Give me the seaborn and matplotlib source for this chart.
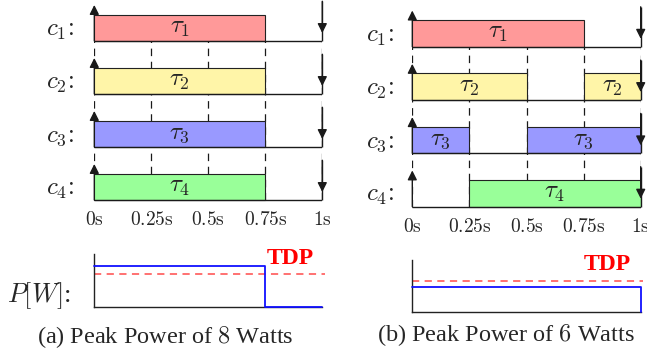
import matplotlib
matplotlib.use("Agg")
import matplotlib.pyplot as plt
import seaborn as sns
import pandas as pd

# cores / tasks
cores = [r'$c_1\colon$', r'$c_2\colon$', r'$c_3\colon$', r'$c_4\colon$']
task_labels = [r'$\tau_1$', r'$\tau_2$', r'$\tau_3$', r'$\tau_4$']
task_colors = ['#FF9999', '#FFF5A8', '#9999FF', '#99FF99']
time_ticks = [0, 0.25, 0.5, 0.75, 1]
time_labels = [r'$0\mathrm{s}$', r'$0.25\mathrm{s}$', r'$0.5\mathrm{s}$', r'$0.75\mathrm{s}$', r'$1\mathrm{s}$']

# schedule (a): every core runs its task 0 -> 0.75s
a_core = [0, 1, 2, 3]
a_task = [0, 1, 2, 3]
a_start = [0, 0, 0, 0]
a_end = [0.75, 0.75, 0.75, 0.75]

# schedule (b): staggered
b_core = [0, 1, 1, 2, 2, 3]
b_task = [0, 1, 1, 2, 2, 3]
b_start = [0, 0, 0.75, 0, 0.5, 0.25]
b_end = [0.75, 0.5, 1, 0.25, 1, 1]

# power traces
pa_t = [0, 0.75, 1]
pa_w = [8, 0, 0]
pb_t = [0, 1, 1]
pb_w = [6, 6, 0]
tdp_a = 6.4
tdp_b = 7.4

sns.set_theme(style='white')
plt.rcParams['font.family'] = ['Liberation Serif', 'DejaVu Serif']
plt.rcParams['mathtext.fontset'] = 'cm'

W, H = 647, 352
fig = plt.figure(figsize=(W / 100, H / 100), dpi=100)


def px_axes(x0, x1, ybot, ytop):
    return fig.add_axes([x0 / W, 1 - ybot / H, (x1 - x0) / W, (ybot - ytop) / H])


def gantt(ax, core, task, start, end, label_pad):
    ncore = len(cores)
    base = {i: ncore - 1 - i for i in range(ncore)}
    df = pd.DataFrame({'core': core, 'task': task, 'start': start, 'end': end})
    df['y'] = df['core'].map(base)
    # dashed time grid
    ax.vlines(time_ticks, 0, ncore - 1, colors='k', linestyles=(0, (6, 4.5)), lw=0.9, zorder=1)
    ax.barh(df['y'], df['end'] - df['start'], left=df['start'], height=0.5, align='edge',
            color=[task_colors[t] for t in df['task']], edgecolor='#222222', lw=0.8, zorder=2)
    for r in df.itertuples():
        ax.text((r.start + r.end) / 2, r.y + 0.25, task_labels[int(r.task)],
                ha='center', va='center', fontsize=18, zorder=5)
    for i in range(ncore):
        b = base[i]
        ax.hlines(b, 0, 1, colors='k', lw=1, zorder=3)
        ax.annotate('', xy=(0, b + 0.68), xytext=(0, b), annotation_clip=False,
                    arrowprops=dict(arrowstyle='-|>', color='k', lw=1, shrinkA=0, shrinkB=0,
                                    mutation_scale=14), zorder=4)
        ax.vlines(1, b, b + 0.75, colors='k', lw=1, zorder=4, clip_on=False)
        ax.annotate('', xy=(1, b + 0.15), xytext=(1, b + 0.75), annotation_clip=False,
                    arrowprops=dict(arrowstyle='-|>', color='k', lw=1, shrinkA=0, shrinkB=0,
                                    mutation_scale=14), zorder=4)
    ax.set_xlim(0, 1)
    ax.set_ylim(-0.1, 3.75)
    ax.set_xticks(time_ticks)
    ax.set_xticklabels(time_labels, fontsize=14)
    ax.set_yticks([base[i] + 0.25 for i in range(ncore)])
    ax.set_yticklabels(cores, fontsize=18)
    ax.tick_params(axis='x', length=0, pad=4)
    ax.tick_params(axis='y', length=0, pad=label_pad)
    for s in ax.spines.values():
        s.set_visible(False)
    ax.patch.set_alpha(0)


ax_a = px_axes(94.3, 322.3, 205.3, 1.25)
gantt(ax_a, a_core, a_task, a_start, a_end, 15)
ax_b = px_axes(412.3, 640.7, 212.0, 6.8)
gantt(ax_b, b_core, b_task, b_start, b_end, 13.5)


def power(ax, t, w, tdp, top, tdp_xy):
    ax.axhline(tdp, 0, 1.01, color='#FF6666', lw=1.3, ls=(0, (4, 3)), clip_on=False)
    sns.lineplot(x=t, y=w, ax=ax, estimator=None, sort=False, drawstyle='steps-post',
                 color='#1010FF', lw=1.3, clip_on=False, zorder=4)
    ax.text(tdp_xy[0], tdp_xy[1], 'TDP', color='red', fontweight='bold', fontsize=17,
            ha='left', va='center')
    ax.set_xlim(0, 1)
    ax.set_ylim(0, top)
    ax.set_xticks([])
    ax.set_yticks([])
    ax.set_xlabel('')
    ax.set_ylabel('')
    for k in ['top', 'right']:
        ax.spines[k].set_visible(False)
    for k in ['left', 'bottom']:
        ax.spines[k].set_color('#222222')
        ax.spines[k].set_linewidth(1)
    ax.patch.set_alpha(0)


ax_pa = px_axes(94.3, 322.3, 307, 254)
power(ax_pa, pa_t, pa_w, tdp_a, 10.3, (0.755, 9.5))
ax_pb = px_axes(412.3, 640.7, 312, 260)
power(ax_pb, pb_t, pb_w, tdp_b, 12.5, (0.752, 11.3))

fig.text(7 / W, 1 - 296 / H, r'$P[W]$:', fontsize=19, ha='left', va='center')
fig.text(165 / W, 1 - 337 / H, r'(a) Peak Power of $8$ Watts', fontsize=17.5, ha='center', va='center')
fig.text(506 / W, 1 - 335 / H, r'(b) Peak Power of $6$ Watts', fontsize=17.5, ha='center', va='center')

fig.savefig('out.png', dpi=100)
